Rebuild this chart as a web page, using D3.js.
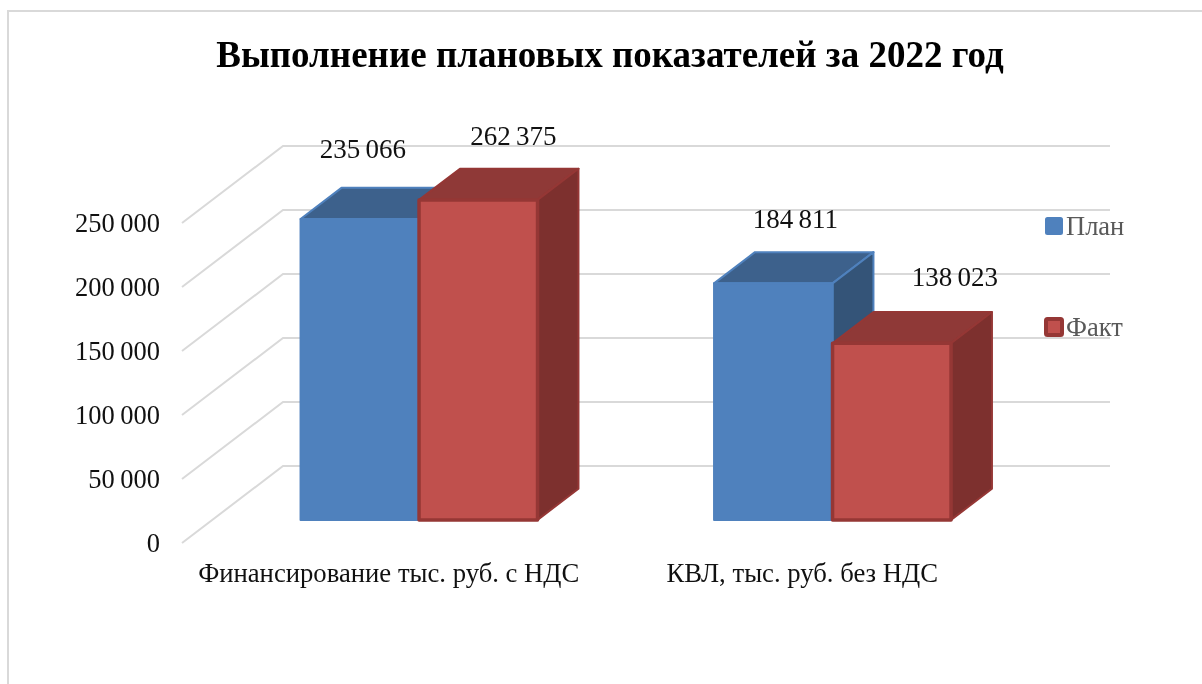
<!DOCTYPE html>
<html>
<head>
<meta charset="utf-8">
<script src="https://unpkg.com/d3@7/dist/d3.min.js"></script>
<style>
  body { margin: 0; background: #fff; }
  svg { filter: blur(0.4px); }
  text { font-family: "Liberation Serif", serif; }
  .axis path { display: none; }
  .axis line { display: none; }
  .axis text { font-family: "Liberation Serif", serif; font-size: 26.5px; word-spacing: -1px; fill: #111; }
</style>
</head>
<body>
<svg id="chart" width="1202" height="684"></svg>
<script>

var categories = ['Финансирование тыс. руб. с НДС', 'КВЛ, тыс. руб. без НДС'];
var series_names = ['План', 'Факт'];
var plan_values = [235066, 184811];
var fact_values = [262375, 138023];
var y_ticks = [0, 50000, 100000, 150000, 200000, 250000];
var chart_title = 'Выполнение плановых показателей за 2022 год';

///////////////////////
// Chart Size Setup
var left = 182, right = 1009;
var floor_y = 543, top_y = 223;
var depth_x = 101, depth_y = 77;
var bar_front = 0.3, bar_back = 0.705;   // how far into the box the bars stand
var svg = d3.select('#chart');

// thousands with a space
var fmt = function(v) { return d3.format(',')(v).replace(/,/g, ' '); };

///////////////////////
// Scales
var x = d3.scaleBand().domain(categories).range([left, right]);
var x_series = d3.scaleBand().domain(series_names).range([0, 237]);
var y = d3.scaleLinear().domain([0, 250000]).range([floor_y, top_y]).clamp(true);  // red bar is cut at axis max

var colors = {
  'План': { front: '#4f81bd', top: '#3d618c', side: '#345478', edge: '#4f81bd' },
  'Факт': { front: '#c0504d', top: '#8f3937', side: '#7d302e', edge: '#953735' }
};

// outer frame
svg.append('rect')
    .attr('x', 8).attr('y', 11)
    .attr('width', 1300).attr('height', 800)
    .attr('fill', 'none')
    .attr('stroke', '#d9d9d9')
    .attr('stroke-width', 2);

svg.append('text')
    .text(chart_title)
    .attr('x', 610).attr('y', 67)
    .attr('text-anchor', 'middle')
    .style('font-size', '37px')
    .style('font-weight', 'bold')
    .style('fill', '#000');

///////////////////////
// Gridlines: floor/side diagonal, then along the back wall
var grid = svg.append('g');
y_ticks.forEach(function(t) {
  grid.append('polyline')
      .attr('points', [[left, y(t)], [left + depth_x, y(t) - depth_y], [right + depth_x, y(t) - depth_y]].join(' '))
      .attr('fill', 'none')
      .attr('stroke', '#d9d9d9')
      .attr('stroke-width', 2);
});

///////////////////////
// Axis
svg.append('g')
    .attr('class', 'axis')
    .attr('transform', 'translate(' + left + ',0)')
    .call(d3.axisLeft(y).tickValues(y_ticks).tickFormat(fmt).tickSize(0).tickPadding(22));

svg.append('g')
    .selectAll('text.cat')
    .data(categories)
    .enter().append('text')
      .attr('class', 'cat')
      .text(function(d) { return d; })
      .attr('x', function(d) { return x(d) + x.bandwidth() / 2 + 0; })
      .attr('y', 582)
      .attr('text-anchor', 'middle')
      .style('font-size', '26.7px')
      .style('fill', '#111');

///////////////////////
// Bars
var bars = [];
categories.forEach(function(c, i) {
  bars.push({ cat: c, name: 'План', value: plan_values[i] });
  bars.push({ cat: c, name: 'Факт', value: fact_values[i] });
});

// project a point of the box onto the page
var px = function(xv, depth) { return xv + depth * depth_x; };
var py = function(v, depth) { return y(v) - depth * depth_y; };

var bar_x0 = function(d) { return x(d.cat) + (x.bandwidth() - x_series.range()[1]) / 2 + x_series(d.name); };
var bar_x1 = function(d) { return bar_x0(d) + x_series.bandwidth(); };

var pts = function(list) { return list.map(function(p) { return p.join(','); }).join(' '); };

var bar = svg.append('g')
    .selectAll('g')
    .data(bars)
    .enter().append('g');

bar.append('polygon')  // top
    .attr('points', function(d) {
      return pts([[px(bar_x0(d), bar_front), py(d.value, bar_front)],
                  [px(bar_x1(d), bar_front), py(d.value, bar_front)],
                  [px(bar_x1(d), bar_back), py(d.value, bar_back)],
                  [px(bar_x0(d), bar_back), py(d.value, bar_back)]]);
    })
    .attr('fill', function(d) { return colors[d.name].top; })
    .attr('stroke', function(d) { return colors[d.name].edge; })
    .attr('stroke-width', 2)
    .attr('stroke-linejoin', 'round');

bar.append('polygon')  // side
    .attr('points', function(d) {
      return pts([[px(bar_x1(d), bar_front), py(d.value, bar_front)],
                  [px(bar_x1(d), bar_back), py(d.value, bar_back)],
                  [px(bar_x1(d), bar_back), py(0, bar_back)],
                  [px(bar_x1(d), bar_front), py(0, bar_front)]]);
    })
    .attr('fill', function(d) { return colors[d.name].side; })
    .attr('stroke', function(d) { return colors[d.name].edge; })
    .attr('stroke-width', 2)
    .attr('stroke-linejoin', 'round');

bar.append('rect')  // front
    .attr('x', function(d) { return px(bar_x0(d), bar_front); })
    .attr('y', function(d) { return py(d.value, bar_front); })
    .attr('width', x_series.bandwidth())
    .attr('height', function(d) { return py(0, bar_front) - py(d.value, bar_front); })
    .attr('fill', function(d) { return colors[d.name].front; })
    .attr('stroke', function(d) { return colors[d.name].edge; })
    .attr('stroke-width', function(d) { return d.name == 'Факт' ? 3.5 : 2; })
    .attr('stroke-linejoin', 'round');

///////////////////////
// Data labels, hand placed in the original so nudged here too
var label_nudge = [[3, -39], [35, -33], [22, -34], [63, -35]];

svg.append('g')
    .selectAll('text')
    .data(bars)
    .enter().append('text')
      .text(function(d) { return fmt(d.value); })
      .attr('x', function(d, i) { return px(bar_x0(d), bar_front) + x_series.bandwidth() / 2 + label_nudge[i][0]; })
      .attr('y', function(d, i) { return py(d.value, bar_back) + label_nudge[i][1]; })
      .attr('dy', '0.35em')
      .attr('text-anchor', 'middle')
      .style('font-size', '27px')
      .style('word-spacing', '-1.5px')
      .style('fill', '#111');

///////////////////////
// Legend
var legend_y = d3.scalePoint().domain(series_names).range([226, 327]);

var legend = svg.append('g')
    .selectAll('g')
    .data(series_names)
    .enter().append('g')
      .attr('transform', function(d) { return 'translate(1045,' + legend_y(d) + ')'; });

legend.append('rect')
    .attr('x', 1).attr('y', -8)
    .attr('width', 16).attr('height', 16)
    .attr('rx', 1.5)
    .attr('fill', function(d) { return colors[d].front; })
    .attr('stroke', function(d) { return colors[d].edge; })
    .attr('stroke-width', function(d) { return d == 'Факт' ? 4 : 2; });

legend.append('text')
    .text(function(d) { return d; })
    .attr('x', 21).attr('y', 0)
    .attr('dy', '0.35em')
    .style('font-size', '26.5px')
    .style('fill', '#595959');

</script>
</body>
</html>
